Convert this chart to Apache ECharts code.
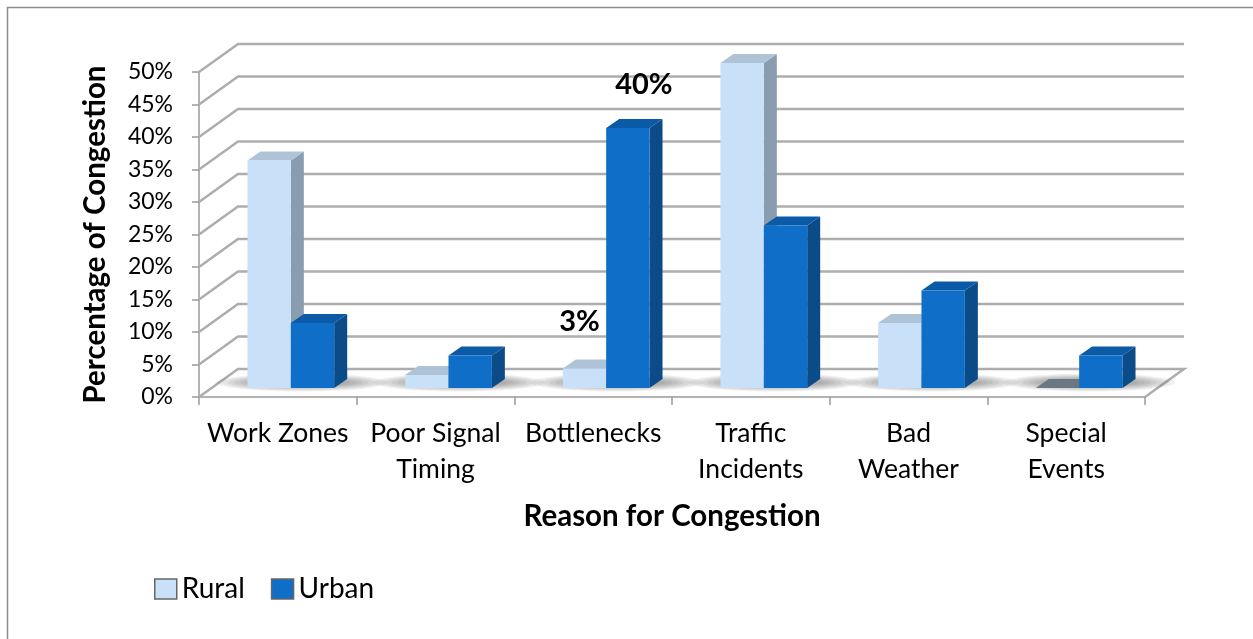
<!DOCTYPE html>
<html>
<head>
<meta charset="utf-8">
<script src="https://cdn.jsdelivr.net/npm/echarts@6/dist/echarts.min.js"></script>
<style>
html,body{margin:0;padding:0;background:#fff;}
#c{width:1253px;height:639px;}
</style>
</head>
<body>
<div id="c"></div>
<script>
const categories = ['Work Zones', 'Poor Signal\nTiming', 'Bottlenecks', 'Traffic\nIncidents', 'Bad\nWeather', 'Special\nEvents'];
const rural = [0.35, 0.02, 0.03, 0.50, 0.10, 0.00];
const urban = [0.10, 0.05, 0.40, 0.25, 0.15, 0.05];
const ruralLabels = ['', '', '3%', '', '', ''];
const urbanLabels = ['', '', '40%', '', '', ''];
const yTicks = [0, 0.05, 0.10, 0.15, 0.20, 0.25, 0.30, 0.35, 0.40, 0.45, 0.50];

const FONT = 'Lato';
// oblique 3D depth of the walls/floor and of the bars
const WALL_DX = 39, WALL_DY = -28;
const BAR_SHIFT_X = 13, BAR_SHIFT_Y = -9;
const BAR_DX = 13, BAR_DY = -9;
const BAR_FRAC = 0.275;

const styles = {
  Rural: { front: '#c8e1f8', side: '#8a9db0', top: '#aec3d6', offset: -1, labelDx: -5, labelDy: -47 },
  Urban: { front: '#0f6ec7', side: '#0b4b87', top: '#0b5aa8', offset: 0, labelDx: 16, labelDy: -43 }
};

function wallRender(params, api) {
  const cs = params.coordSys;
  const v = api.value(1);
  const y = api.coord([0, v])[1];
  const x0 = cs.x, x1 = cs.x + cs.width;
  let pts;
  if (v === 0) {
    pts = [[x0, y], [x0 + WALL_DX, y + WALL_DY], [x1 + WALL_DX, y + WALL_DY], [x1, y]];
  } else {
    pts = [[x0, y], [x0 + WALL_DX, y + WALL_DY], [x1 + WALL_DX, y + WALL_DY]];
  }
  return {
    type: 'polyline',
    shape: { points: pts },
    style: { stroke: '#adadad', lineWidth: 2.5, fill: null },
    z2: 1
  };
}

function makeBarRender(name, labels) {
  const st = styles[name];
  return function (params, api) {
    const idx = api.value(0);
    const val = api.value(1);
    const base = api.coord([idx, 0]);
    const top = api.coord([idx, val]);
    const band = api.size([1, 0])[0];
    const w = band * BAR_FRAC;
    const x0 = base[0] + BAR_SHIFT_X + st.offset * w;
    const x1 = x0 + w;
    const yb = base[1] + BAR_SHIFT_Y;
    const yt = top[1] + BAR_SHIFT_Y;
    const children = [];
    if (name === 'Rural') {
      // soft floor shadow under the pair of bars (stacked translucent ellipses)
      const cx = x1 + BAR_DX / 2 + 4;
      const cy = yb + BAR_DY / 2 - 1;
      for (let k = 0; k < 7; k++) {
        children.push({
          type: 'ellipse',
          shape: { cx: cx, cy: cy, rx: w + 42 - k * 6, ry: 9 - k * 0.9 },
          style: { fill: 'rgba(60,60,60,0.07)' }
        });
      }
    }
    children.push({
      type: 'polygon',
      shape: { points: [[x1, yb], [x1 + BAR_DX, yb + BAR_DY], [x1 + BAR_DX, yt + BAR_DY], [x1, yt]] },
      style: { fill: st.side }
    });
    children.push({
      type: 'polygon',
      shape: { points: [[x0, yt], [x1, yt], [x1 + BAR_DX, yt + BAR_DY], [x0 + BAR_DX, yt + BAR_DY]] },
      style: { fill: val === 0 ? '#6b7884' : st.top }
    });
    if (val > 0) {
      children.push({
        type: 'rect',
        shape: { x: x0, y: yt, width: w, height: yb - yt },
        style: { fill: st.front }
      });
    }
    const lab = labels[params.dataIndex];
    if (lab) {
      children.push({
        type: 'text',
        x: (x0 + x1) / 2 + st.labelDx,
        y: yt + st.labelDy,
        style: {
          text: lab, fontFamily: FONT, fontSize: 29, fontWeight: 'bold', fill: '#000',
          align: 'center', verticalAlign: 'middle'
        }
      });
    }
    return { type: 'group', children: children };
  };
}

const chart = echarts.init(document.getElementById('c'), null, { renderer: 'canvas' });
chart.setOption({
  animation: false,
  backgroundColor: '#fff',
  textStyle: { fontFamily: FONT },
  graphic: [{
    type: 'rect', silent: true, z: -10,
    shape: { x: 7.5, y: 7.5, width: 1300, height: 700 },
    style: { fill: null, stroke: '#8c8c8c', lineWidth: 1.5 }
  }],
  grid: { left: 199, right: 108, top: 72, bottom: 242, containLabel: false },
  legend: {
    left: 154, top: 575, padding: 0,
    itemWidth: 22, itemHeight: 20, itemGap: 26,
    icon: 'rect',
    textStyle: { fontFamily: FONT, fontSize: 28, color: '#000', padding: [0, 0, 0, 0] },
    data: [
      { name: 'Rural', itemStyle: { color: styles.Rural.front, borderColor: '#666', borderWidth: 1.5 } },
      { name: 'Urban', itemStyle: { color: styles.Urban.front, borderColor: '#666', borderWidth: 1.5 } }
    ]
  },
  xAxis: {
    type: 'category',
    data: categories,
    boundaryGap: true,
    axisLine: { show: true, lineStyle: { color: '#9a9a9a', width: 1.5 } },
    axisTick: { show: true, alignWithLabel: false, interval: 0, length: 8, lineStyle: { color: '#9a9a9a', width: 1.5 } },
    axisLabel: { interval: 0, fontFamily: FONT, fontSize: 26.5, lineHeight: 36, color: '#000', margin: 18 },
    name: 'Reason for Congestion',
    nameLocation: 'middle',
    nameGap: 104,
    nameTextStyle: { fontFamily: FONT, fontSize: 29.5, fontWeight: 'bold', color: '#000' },
    splitLine: { show: false }
  },
  yAxis: {
    type: 'value',
    min: 0, max: 0.5, interval: 0.05,
    axisLine: { show: true, lineStyle: { color: '#9a9a9a', width: 1.5 } },
    axisTick: { show: true, length: 7, lineStyle: { color: '#9a9a9a', width: 1.5 } },
    axisLabel: {
      fontFamily: FONT, fontSize: 23, color: '#000', margin: 26,
      formatter: function (v) { return Math.round(v * 100) + '%'; }
    },
    splitLine: { show: false },
    name: 'Percentage of Congestion',
    nameLocation: 'middle',
    nameRotate: 90,
    nameGap: 89,
    nameTextStyle: { fontFamily: FONT, fontSize: 29.5, fontWeight: 'bold', color: '#000' }
  },
  series: [
    {
      name: 'walls', type: 'custom', clip: false, silent: true, z: 1,
      renderItem: wallRender,
      data: yTicks.map(function (v) { return [0, v]; })
    },
    {
      name: 'Rural', type: 'custom', clip: false, z: 2,
      itemStyle: { color: styles.Rural.front },
      renderItem: makeBarRender('Rural', ruralLabels),
      data: rural.map(function (v, i) { return [i, v]; })
    },
    {
      name: 'Urban', type: 'custom', clip: false, z: 3,
      itemStyle: { color: styles.Urban.front },
      renderItem: makeBarRender('Urban', urbanLabels),
      data: urban.map(function (v, i) { return [i, v]; })
    }
  ]
});
</script>
</body>
</html>
